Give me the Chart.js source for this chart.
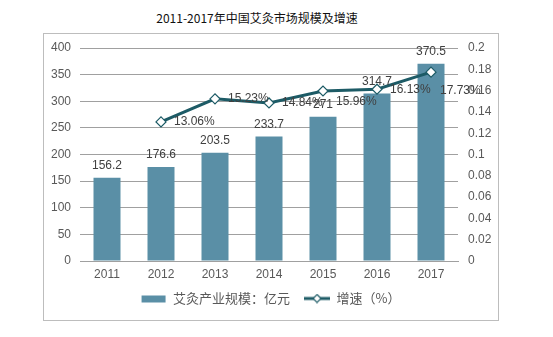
<!DOCTYPE html>
<html>
<head>
<meta charset="utf-8">
<script src="https://cdn.jsdelivr.net/npm/chart.js@4/dist/chart.umd.min.js"></script>
<style>
  html, body { margin: 0; padding: 0; background: #fff; }
  #wrap { position: relative; width: 553px; height: 337px; }
  #frame { position: absolute; left: 43px; top: 33px; width: 454px; height: 286px; border: 1px solid #bdbdbd; }
  #title { position: absolute; left: 0; top: 9px; width: 514px; text-align: center;
           font: 400 12px "Noto Sans CJK SC", sans-serif; color: #111; }
  canvas { position: absolute; left: 0; top: 0; }
</style>
</head>
<body>
<div id="wrap">
  <div id="frame"></div>
  <div id="title">2011-2017年中国艾灸市场规模及增速</div>
  <canvas id="chart" width="553" height="337"></canvas>
</div>
<script>
// 数据
const years = ['2011', '2012', '2013', '2014', '2015', '2016', '2017'];
const marketSize = [156.2, 176.6, 203.5, 233.7, 271, 314.7, 370.5];
const growthRate = [null, 0.1306, 0.1523, 0.1484, 0.1596, 0.1613, 0.1773];
const growthLabels = [null, '13.06%', '15.23%', '14.84%', '15.96%', '16.13%', '17.73%'];

const barColor = '#5a8fa6';
const lineColor = '#1d5b66';
const textColor = '#595959';

// 标签微调 (dx, dy)
const growthLabelNudge = [null, [13, 0], [13, 0], [13, 0], [13, 11], [13, 0], [9, 19]];

// 图例图标
function legendIcon(type) {
    const c = document.createElement('canvas');
    c.width = 26; c.height = 10;
    const g = c.getContext('2d');
    if (type === 'bar') {
        g.fillStyle = barColor;
        g.fillRect(1, 2, 24, 7);
    } else {
        g.strokeStyle = lineColor;
        g.lineWidth = 3;
        g.beginPath(); g.moveTo(0, 5); g.lineTo(26, 5); g.stroke();
        g.fillStyle = '#fff';
        g.lineWidth = 1.2;
        g.beginPath(); g.moveTo(13, 1); g.lineTo(17, 5); g.lineTo(13, 9); g.lineTo(9, 5); g.closePath();
        g.fill(); g.stroke();
    }
    return c;
}

// 数据标签插件
const valueLabels = {
    id: 'valueLabels',
    afterDatasetsDraw(chart) {
        const ctx = chart.ctx;
        ctx.save();
        ctx.font = '12px "Liberation Sans", Arial, sans-serif';
        ctx.fillStyle = '#404040';
        ctx.textBaseline = 'middle';
        // 柱子数值
        ctx.textAlign = 'center';
        chart.getDatasetMeta(0).data.forEach((bar, i) => {
            ctx.fillText(String(marketSize[i]), bar.x, bar.y - 12);
        });
        // 增速数值
        ctx.textAlign = 'left';
        chart.getDatasetMeta(1).data.forEach((pt, i) => {
            if (growthRate[i] === null) return;
            const n = growthLabelNudge[i];
            ctx.fillText(growthLabels[i], pt.x + n[0], pt.y + n[1]);
        });
        ctx.restore();
    }
};

const ctx = document.getElementById('chart');
new Chart(ctx, {
    data: {
        labels: years,
        datasets: [{
            type: 'bar',
            label: '艾灸产业规模：亿元',
            data: marketSize,
            backgroundColor: barColor,
            barPercentage: 0.5,
            categoryPercentage: 1,
            yAxisID: 'y',
            order: 2
        }, {
            type: 'line',
            label: '增速（%）',
            data: growthRate,
            borderColor: lineColor,
            borderWidth: 3,
            pointStyle: 'rectRot',
            pointRadius: 5,
            pointBackgroundColor: '#fff',
            pointBorderColor: lineColor,
            pointBorderWidth: 1.2,
            tension: 0,
            yAxisID: 'y1',
            order: 1
        }]
    },
    options: {
        responsive: false,
        animation: false,
        layout: { padding: { left: 43, right: 55, top: 48, bottom: 22 } },
        plugins: {
            title: { display: false },
            tooltip: { enabled: false },
            legend: {
                position: 'bottom',
                labels: {
                    usePointStyle: true,
                    pointStyleWidth: 26,
                    padding: 14,
                    color: textColor,
                    font: { family: '"Noto Sans CJK SC", sans-serif', size: 13 },
                    generateLabels: function (chart) {
                        return chart.data.datasets.map((ds, i) => ({
                            text: ds.label,
                            datasetIndex: i,
                            pointStyle: legendIcon(ds.type),
                            fillStyle: 'transparent',
                            strokeStyle: 'transparent',
                            lineWidth: 0,
                            fontColor: textColor
                        }));
                    }
                }
            }
        },
        scales: {
            x: {
                grid: { display: false, drawTicks: false },
                border: { color: '#a0a0a0' },
                ticks: {
                    color: textColor,
                    padding: 6,
                    font: { family: '"Liberation Sans", Arial, sans-serif', size: 12 }
                },
                afterFit: function (scale) { scale.height = 17; }
            },
            y: {
                position: 'left',
                min: 0,
                max: 400,
                ticks: {
                    stepSize: 50,
                    color: textColor,
                    padding: 9,
                    font: { family: '"Liberation Sans", Arial, sans-serif', size: 12 }
                },
                grid: { color: '#a0a0a0', drawTicks: false },
                border: { display: false },
                afterFit: function (scale) { scale.width = 37; }
            },
            y1: {
                position: 'right',
                min: 0,
                max: 0.2,
                ticks: {
                    stepSize: 0.02,
                    color: textColor,
                    padding: 10,
                    font: { family: '"Liberation Sans", Arial, sans-serif', size: 12 },
                    callback: function (value) { return Number(value.toFixed(2)).toString(); }
                },
                grid: { display: false, drawTicks: false },
                border: { display: false },
                afterFit: function (scale) { scale.width = 40; }
            }
        }
    },
    plugins: [valueLabels]
});
</script>
</body>
</html>
